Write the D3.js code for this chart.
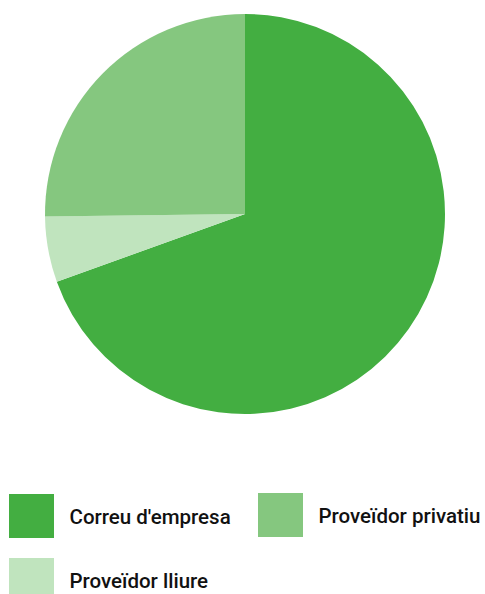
<!DOCTYPE html>
<html>
<head>
<meta charset="utf-8">
<script src="https://cdn.jsdelivr.net/npm/d3@7"></script>
<style>
  body { margin: 0; background: #fff; }
  svg { display: block; }
</style>
</head>
<body>
<div id="chart"></div>
<script>
// values (percent), in the order the slices run clockwise from 12 o'clock
var categories = ["Correu d'empresa", "Proveïdor lliure", "Proveïdor privatiu"]
var values = [69.5, 5.3, 25.2]
var colors = ["#43ae41", "#c0e4be", "#85c77f"]

// legend order as shown under the pie
var legendOrder = ["Correu d'empresa", "Proveïdor privatiu", "Proveïdor lliure"]

var width = 485, height = 594
var radius = 200

var svg = d3.select("#chart")
  .append("svg")
    .attr("width", width)
    .attr("height", height)

var data = categories.map(function(c, i) { return {name: c, value: values[i]} })

var color = d3.scaleOrdinal()
    .domain(categories)
    .range(colors)

var pie = d3.pie()
    .sort(null)
    .value(function(d) { return d.value })

var arc = d3.arc()
    .innerRadius(0)
    .outerRadius(radius)

var g = svg.append("g")
    .attr("transform", "translate(245,214)")

g.selectAll("path")
  .data(pie(data))
  .enter().append("path")
    .attr("d", arc)
    .attr("fill", function(d) { return color(d.data.name) })

// legend: two columns
var legendPos = [[9, 494], [258, 493], [9, 558]]

var legend = svg.append("g")
  .selectAll("g")
  .data(legendOrder)
  .enter().append("g")
    .attr("transform", function(d, i) { return "translate(" + legendPos[i][0] + "," + legendPos[i][1] + ")" })

legend.append("rect")
    .attr("width", 45)
    .attr("height", 44)
    .attr("fill", function(d) { return color(d) })

legend.append("text")
    .attr("x", 60.5)
    .attr("y", 30)
    .style("font-family", "Roboto, sans-serif")
    .style("font-weight", 500)
    .style("font-size", "20.5px")
    .attr("fill", "#111")
    .text(function(d) { return d })
</script>
</body>
</html>
